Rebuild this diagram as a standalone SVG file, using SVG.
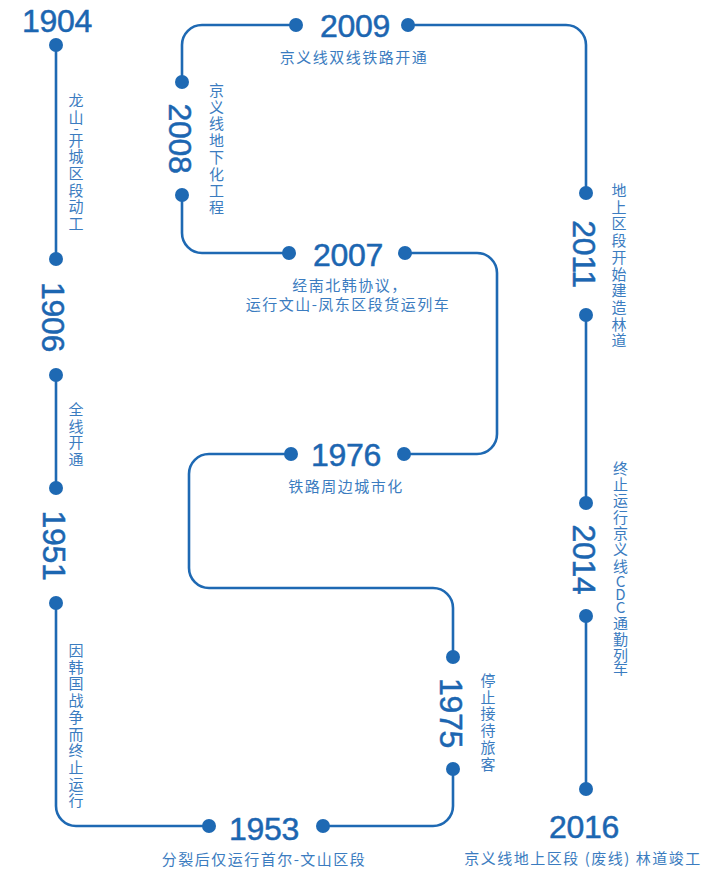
<svg xmlns="http://www.w3.org/2000/svg" width="705" height="873" viewBox="0 0 705 873">
<style>
.ln{fill:none;stroke:#1e69b3;stroke-width:2.6;stroke-linecap:round}
.dot{fill:#1e69b3}
.yr{font-family:"Liberation Sans",Arial,sans-serif;font-size:32px;fill:#1c66b1;stroke:#1c66b1;stroke-width:0.5;text-anchor:middle;letter-spacing:-0.3px}
.lb{font-family:"Noto Sans CJK SC","Noto Sans",sans-serif;font-size:15px;fill:#3b7cc0;letter-spacing:1.5px;text-anchor:middle}
.vl{font-family:"Noto Sans CJK SC","Noto Sans",sans-serif;font-size:15px;fill:#3b7cc0;text-anchor:middle}
</style>
<rect width="705" height="873" fill="#ffffff"/>
<g id="connectors">
<path class="ln" d="M56 45 V259"/>
<path class="ln" d="M56 375 V488"/>
<path class="ln" d="M56 603 V806 A20 20 0 0 0 76 826 H209"/>
<path class="ln" d="M323 826 H433 A20 20 0 0 0 453 806 V769"/>
<path class="ln" d="M453 657 V608 A20 20 0 0 0 433 588 H209 A20 20 0 0 1 189 568 V474 A20 20 0 0 1 209 454 H291"/>
<path class="ln" d="M404 454 H477 A20 20 0 0 0 497 434 V273 A20 20 0 0 0 477 253 H405"/>
<path class="ln" d="M289 253 H202 A20 20 0 0 1 182 233 V195"/>
<path class="ln" d="M182 82 V45 A20 20 0 0 1 202 25 H296"/>
<path class="ln" d="M408 25 H566 A20 20 0 0 1 586 45 V193"/>
<path class="ln" d="M586 315 V503"/>
<path class="ln" d="M586 616 V789"/>
</g>
<g id="n1904">
<text class="yr" x="57" y="32">1904</text>
<circle class="dot" cx="56" cy="45" r="7"/>
<text class="vl"><tspan x="76" y="106">龙</tspan><tspan x="76" y="122.7">山</tspan><tspan x="76" y="133.5">-</tspan><tspan x="76" y="145.5">开</tspan><tspan x="76" y="162.2">城</tspan><tspan x="76" y="178.9">区</tspan><tspan x="76" y="195.6">段</tspan><tspan x="76" y="212.3">动</tspan><tspan x="76" y="229">工</tspan></text>
</g>
<g id="n1906">
<circle class="dot" cx="56" cy="259" r="7"/>
<text class="yr" transform="translate(42 317) rotate(90)" x="0" y="0">1906</text>
<circle class="dot" cx="56" cy="375" r="7"/>
<text class="vl"><tspan x="76" y="415">全</tspan><tspan x="76" y="431.7">线</tspan><tspan x="76" y="448.4">开</tspan><tspan x="76" y="465.1">通</tspan></text>
</g>
<g id="n1951">
<circle class="dot" cx="56" cy="488" r="7"/>
<text class="yr" transform="translate(43 545.5) rotate(90)" x="0" y="0">1951</text>
<circle class="dot" cx="56" cy="603" r="7"/>
<text class="vl"><tspan x="76" y="656">因</tspan><tspan x="76" y="672.7">韩</tspan><tspan x="76" y="689.4">国</tspan><tspan x="76" y="706.1">战</tspan><tspan x="76" y="722.8">争</tspan><tspan x="76" y="739.5">而</tspan><tspan x="76" y="756.2">终</tspan><tspan x="76" y="772.9">止</tspan><tspan x="76" y="789.6">运</tspan><tspan x="76" y="806.3">行</tspan></text>
</g>
<g id="n1953">
<circle class="dot" cx="209" cy="826" r="7"/>
<text class="yr" x="264" y="840">1953</text>
<circle class="dot" cx="323" cy="826" r="7"/>
<text class="lb" x="264" y="865">分裂后仅运行首尔-文山区段</text>
</g>
<g id="n1975">
<circle class="dot" cx="453" cy="769" r="7"/>
<text class="yr" transform="translate(440 713) rotate(90)" x="0" y="0">1975</text>
<circle class="dot" cx="453" cy="657" r="7"/>
<text class="vl"><tspan x="488" y="686">停</tspan><tspan x="488" y="702.7">止</tspan><tspan x="488" y="719.4">接</tspan><tspan x="488" y="736.1">待</tspan><tspan x="488" y="752.8">旅</tspan><tspan x="488" y="769.5">客</tspan></text>
</g>
<g id="n1976">
<circle class="dot" cx="291" cy="454" r="7"/>
<text class="yr" x="346" y="466">1976</text>
<circle class="dot" cx="404" cy="454" r="7"/>
<text class="lb" x="346" y="492">铁路周边城市化</text>
</g>
<g id="n2007">
<circle class="dot" cx="289" cy="253" r="7"/>
<text class="yr" x="348" y="266">2007</text>
<circle class="dot" cx="405" cy="253" r="7"/>
<text class="lb" x="350" y="291">经南北韩协议，</text>
<text class="lb" x="348" y="310">运行文山-凤东区段货运列车</text>
</g>
<g id="n2008">
<circle class="dot" cx="182" cy="195" r="7"/>
<text class="yr" transform="translate(169 138.5) rotate(90)" x="0" y="0">2008</text>
<circle class="dot" cx="182" cy="82" r="7"/>
<text class="vl"><tspan x="216.5" y="96">京</tspan><tspan x="216.5" y="112.7">义</tspan><tspan x="216.5" y="129.4">线</tspan><tspan x="216.5" y="146.1">地</tspan><tspan x="216.5" y="162.8">下</tspan><tspan x="216.5" y="179.5">化</tspan><tspan x="216.5" y="196.2">工</tspan><tspan x="216.5" y="212.9">程</tspan></text>
</g>
<g id="n2009">
<circle class="dot" cx="296" cy="25" r="7"/>
<text class="yr" x="355" y="37">2009</text>
<circle class="dot" cx="408" cy="25" r="7"/>
<text class="lb" x="354" y="63">京义线双线铁路开通</text>
</g>
<g id="n2011">
<circle class="dot" cx="586" cy="193" r="7"/>
<text class="yr" transform="translate(573 254) rotate(90)" x="0" y="0">2011</text>
<circle class="dot" cx="586" cy="315" r="7"/>
<text class="vl"><tspan x="619" y="196">地</tspan><tspan x="619" y="212.7">上</tspan><tspan x="619" y="229.4">区</tspan><tspan x="619" y="246.1">段</tspan><tspan x="619" y="262.8">开</tspan><tspan x="619" y="279.5">始</tspan><tspan x="619" y="296.2">建</tspan><tspan x="619" y="312.9">造</tspan><tspan x="619" y="329.6">林</tspan><tspan x="619" y="346.3">道</tspan></text>
</g>
<g id="n2014">
<circle class="dot" cx="586" cy="503" r="7"/>
<text class="yr" transform="translate(573 559.5) rotate(90)" x="0" y="0">2014</text>
<circle class="dot" cx="586" cy="616" r="7"/>
<text class="vl"><tspan x="620.5" y="473.5">终</tspan><tspan x="620.5" y="490">止</tspan><tspan x="620.5" y="506">运</tspan><tspan x="620.5" y="522.5">行</tspan><tspan x="620.5" y="538.5">京</tspan><tspan x="620.5" y="555">义</tspan><tspan x="620.5" y="571.5">线</tspan><tspan x="620.5" y="587">C</tspan><tspan x="620.5" y="600">D</tspan><tspan x="620.5" y="613">C</tspan><tspan x="620.5" y="628.5">通</tspan><tspan x="620.5" y="645">勤</tspan><tspan x="620.5" y="660.5">列</tspan><tspan x="620.5" y="673.5">车</tspan></text>
</g>
<g id="n2016">
<circle class="dot" cx="586" cy="789" r="7"/>
<text class="yr" x="584" y="838">2016</text>
<text class="lb" x="583" y="864">京义线地上区段 (废线) 林道竣工</text>
</g>
</svg>
